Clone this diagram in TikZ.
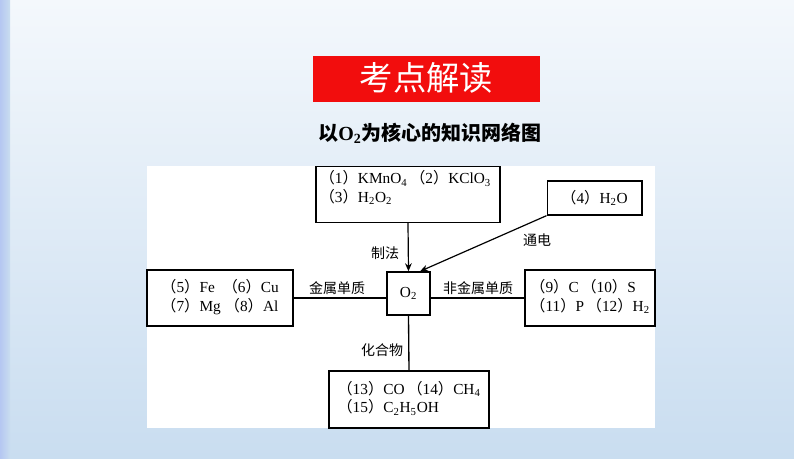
\documentclass[tikz,border=0pt]{standalone}
\usepackage{fontspec}
\setmainfont{Liberation Serif}
\newfontfamily\cjk{Noto Sans CJK SC}
\usetikzlibrary{arrows.meta}
\definecolor{bgtop}{HTML}{F4F8FC}
\definecolor{bgbot}{HTML}{C9DDF0}
\definecolor{banner}{HTML}{F20D0D}
\newcommand{\lp}{{\cjk （}}
\newcommand{\rp}{{\cjk ）}}
\tikzset{
 box/.style={draw,line width=1pt,fill=white,align=left,inner sep=0pt,font=\fontsize{11.5}{13}\selectfont},
 lbl/.style={font=\cjk\fontsize{10.5}{12}\selectfont},
 conn/.style={line width=1pt},
 arr/.style={line width=0.9pt,-{Stealth[length=6pt,width=5pt]}}
}
\begin{document}
\begin{tikzpicture}[x=0.75pt,y=-0.75pt]
\useasboundingbox (0,0) rectangle (794,458);
\shade[top color=bgtop,bottom color=bgbot] (0,0) rectangle (794,458);
\shade[left color=bgbot!90!blue,right color=bgbot] (0,0) rectangle (10,458);
\fill[banner] (313,56) rectangle (540,102);
\node[text=white,font=\cjk\fontsize{25}{28}\selectfont] (ban) at (426.5,78) {考点解读};
\node[font=\cjk\bfseries\fontsize{15}{17}\selectfont] (title) at (430,133) {以{\rmfamily\bfseries O\textsubscript{2}}为核心的知识网络图};
\fill[white] (147,166) rectangle (655,428);
\node[box,minimum width=138pt,minimum height=42pt] (top) at (408,194.5) {\hspace*{-4pt}\begin{tabular}{@{}l@{}}\lp1\rp KMnO\textsubscript{4}\,\lp2\rp KClO\textsubscript{3}\\\lp3\rp H\textsubscript{2}O\textsubscript{2}\\[8pt]\end{tabular}};
\node[box,minimum width=71pt,minimum height=25.5pt] (h2o) at (594.5,198) {\lp4\rp H\textsubscript{2}O};
\node[box,line width=1.3pt,minimum width=32pt,minimum height=32pt] (o2) at (408.5,293.5) {O\textsubscript{2}};
\node[box,minimum width=109.5pt,minimum height=42pt] (lft) at (220,298) {\begin{tabular}{@{}l@{}}\lp5\rp Fe\ \ \lp6\rp Cu\\\lp7\rp Mg\ \lp8\rp Al\end{tabular}};
\node[box,minimum width=97.5pt,minimum height=42pt] (rgt) at (590,298) {\begin{tabular}{@{}l@{}}\lp9\rp C\,\lp10\rp S\\\lp11\rp P\,\lp12\rp H\textsubscript{2}\end{tabular}};
\node[box,minimum width=120pt,minimum height=42.75pt] (bot) at (409,399.5) {\begin{tabular}{@{}l@{}}\lp13\rp CO\,\lp14\rp CH\textsubscript{4}\\\lp15\rp C\textsubscript{2}H\textsubscript{5}OH\end{tabular}};
\draw[arr] (top.south) -- (o2.north);
\draw[arr] (h2o.south west) -- ([xshift=-8pt]o2.north east);
\draw[conn] (lft.east) -- (lft.east -| o2.west);
\draw[conn] (rgt.west) -- (rgt.west -| o2.east);
\draw[conn] (bot.north) -- (o2.south);
\node[lbl] (l1) at (385,253) {制法};
\node[lbl] (l2) at (537,240) {通电};
\node[lbl] (l3) at (337,288) {金属单质};
\node[lbl] (l4) at (478,288) {非金属单质};
\node[lbl] (l5) at (382,350) {化合物};
\end{tikzpicture}
\end{document}
